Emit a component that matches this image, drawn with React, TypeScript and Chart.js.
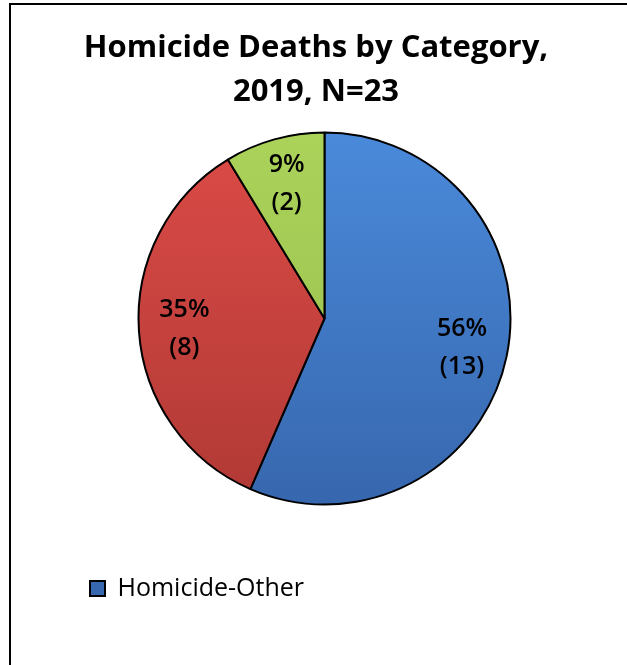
import { useEffect, useRef } from "react";
import { Chart, registerables } from "chart.js";

Chart.register(...registerables);

const categories = ["Homicide-Other", "Homicide-Category B", "Homicide-Category C"];
const values = [13, 8, 2];
const titleLines = ["Homicide Deaths by Category,", "2019, N=23"];
const topColors = ["#4A8ADA", "#DC4B47", "#ABD35A"];
const bottomColors = ["#3767AE", "#B03935", "#96BC4C"];

const PIE_RADIUS = 186;

function percents(vals: number[]) {
  const total = vals.reduce((s, v) => s + v, 0);
  const raw = vals.map((v) => (v / total) * 100);
  const out = raw.map((r) => Math.floor(r));
  let left = 100 - out.reduce((s, v) => s + v, 0);
  const order = raw
    .map((r, i) => ({ i, rem: r - Math.floor(r) }))
    .sort((a, b) => b.rem - a.rem);
  for (let k = 0; k < order.length && left > 0; k++, left--) out[order[k].i] += 1;
  return out;
}

function sliceFill(c: any) {
  const chart = c.chart;
  const a = chart.chartArea;
  const i = c.dataIndex ?? c.index ?? 0;
  if (!a) return topColors[i];
  const cy = (a.top + a.bottom) / 2;
  const g = chart.ctx.createLinearGradient(0, cy - PIE_RADIUS, 0, cy + PIE_RADIUS);
  g.addColorStop(0, topColors[i]);
  g.addColorStop(1, bottomColors[i]);
  return g;
}

const sliceLabels = {
  id: "sliceLabels",
  afterDatasetsDraw(chart: any) {
    const meta = chart.getDatasetMeta(0);
    const pcts = percents(values);
    const c = chart.ctx;
    meta.data.forEach((arc: any, i: number) => {
      const p = arc.getProps(["x", "y", "startAngle", "endAngle", "outerRadius"], true);
      const mid = (p.startAngle + p.endAngle) / 2;
      const r = p.outerRadius * 0.755;
      const lx = p.x + Math.cos(mid) * r;
      const ly = p.y + Math.sin(mid) * r;
      c.save();
      c.font = "600 25px 'Open Sans'";
      c.fillStyle = "#000";
      c.textAlign = "center";
      c.textBaseline = "middle";
      c.fillText(pcts[i] + "%", lx, ly - 18);
      c.fillText("(" + values[i] + ")", lx, ly + 20);
      c.restore();
    });
  },
};

const titleText = {
  id: "titleText",
  afterDraw(chart: any) {
    const c = chart.ctx;
    c.save();
    c.font = "bold 31px 'Open Sans'";
    c.fillStyle = "#000";
    c.textAlign = "center";
    c.textBaseline = "alphabetic";
    c.fillText(titleLines[0], 316, 57);
    c.fillText(titleLines[1], 316, 101);
    c.restore();
  },
};

export default function App() {
  const ref = useRef<HTMLCanvasElement | null>(null);
  useEffect(() => {
    if (!ref.current) return;
    const chart = new Chart(ref.current, {
      type: "pie",
      data: {
        labels: categories,
        datasets: [
          {
            data: values,
            backgroundColor: sliceFill as any,
            borderColor: "#000",
            borderWidth: 2,
            radius: PIE_RADIUS,
          } as any,
        ],
      },
      options: {
        responsive: false,
        animation: false,
        layout: { padding: { top: 113, left: 38, right: 16, bottom: 54 } },
        plugins: {
          title: { display: false },
          tooltip: { enabled: false },
          legend: {
            position: "bottom",
            align: "start",
            labels: {
              filter: (item: any) => item.index === 0,
              boxWidth: 15,
              boxHeight: 15,
              padding: 52,
              color: "#000",
              font: { family: "'Open Sans'", size: 25 },
            },
          },
        },
      },
      plugins: [sliceLabels, titleText],
    });
    return () => chart.destroy();
  }, []);

  return (
    <div style={{ position: "fixed", left: 0, top: 0, width: 627, height: 665, overflow: "hidden", background: "#fff" }}>
      <div
        style={{
          position: "absolute",
          left: 9,
          top: 3,
          width: 800,
          height: 900,
          border: "2px solid #000",
          boxSizing: "border-box",
        }}
      />
      <canvas ref={ref} width={627} height={665} style={{ position: "absolute", left: 0, top: 0, display: "block" }} />
    </div>
  );
}
